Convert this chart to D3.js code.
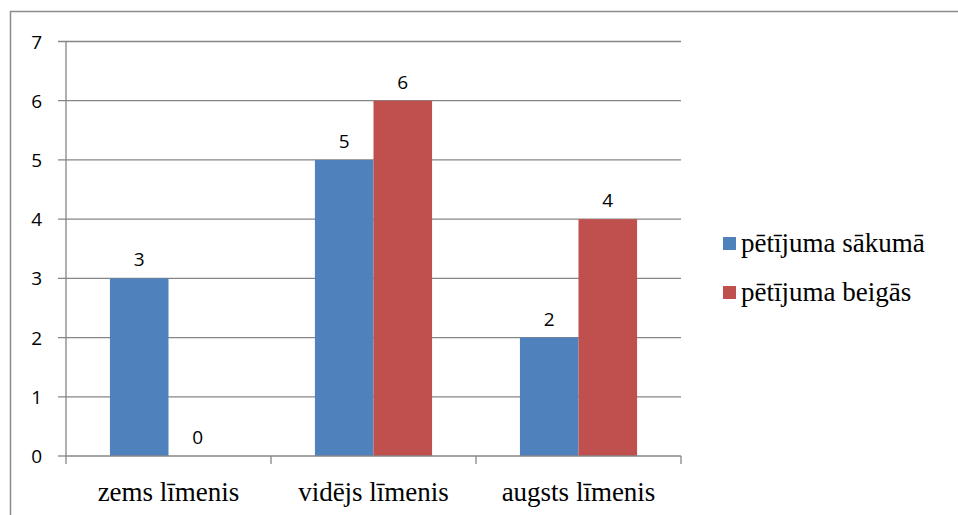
<!DOCTYPE html>
<html><head><meta charset="utf-8">
<script src="https://cdn.jsdelivr.net/npm/d3@7"></script>
</head><body style="margin:0"><svg id="c" width="958" height="515"></svg>
<script>
const categories = ["zems līmenis", "vidējs līmenis", "augsts līmenis"];
const seriesNames = ["pētījuma sākumā", "pētījuma beigās"];
const startValues = [3, 5, 2];
const endValues = [0, 6, 4];
const yTicks = [0, 1, 2, 3, 4, 5, 6, 7];
const colors = ["#4f81bd", "#c0504d"];

const svg = d3.select("#c");
const pLeft = 66, pRight = 681, pTop = 41.5, pBottom = 456;
const sansFont = "Open Sans";
const serifFont = "Liberation Serif";

// frame
svg.append("rect").attr("x", 10.5).attr("y", 11.5).attr("width", 960).attr("height", 520)
  .attr("fill", "none").attr("stroke", "#8c8c8c").attr("stroke-width", 1.5);

const x = d3.scaleBand().domain(categories).range([pLeft, pRight]);
const y = d3.scaleLinear().domain([0, 7]).range([pBottom, pTop]);
const bw = x.bandwidth() / 3.5;
const x1 = d3.scaleBand().domain([0, 1]).range([0.75 * bw, 2.75 * bw]);

// gridlines
svg.append("g").selectAll("line").data(yTicks.filter(d => d > 0)).join("line")
  .attr("x1", pLeft - 8).attr("x2", pRight).attr("y1", d => y(d)).attr("y2", d => y(d))
  .attr("stroke", "#868686").attr("stroke-width", 1.3);

const data = categories.map((c, i) => ({ c, vals: [startValues[i], endValues[i]] }));
const g = svg.append("g").selectAll("g").data(data).join("g")
  .attr("transform", d => `translate(${x(d.c)},0)`);
g.selectAll("rect").data(d => d.vals.map((v, s) => ({ v, s }))).join("rect")
  .attr("x", d => x1(d.s)).attr("width", x1.bandwidth())
  .attr("y", d => y(d.v)).attr("height", d => y(0) - y(d.v))
  .attr("fill", d => colors[d.s]);
g.selectAll("text").data(d => d.vals.map((v, s) => ({ v, s }))).join("text")
  .attr("x", d => x1(d.s) + x1.bandwidth() / 2).attr("y", d => y(d.v) - 12)
  .attr("text-anchor", "middle")
  .attr("font-family", sansFont).attr("font-size", 19)
  .attr("fill", "#000").text(d => d.v);

// y axis (drawn manually with the scale)
svg.append("line").attr("x1", pLeft).attr("x2", pLeft).attr("y1", y(7)).attr("y2", y(0))
  .attr("stroke", "#868686").attr("stroke-width", 1.3);
svg.append("g").selectAll("text").data(yTicks).join("text")
  .attr("x", pLeft - 24).attr("y", d => y(d) + 7).attr("text-anchor", "end")
  .attr("font-family", sansFont).attr("font-size", 19).attr("fill", "#000").text(d => d);
svg.append("g").selectAll("line").data([0]).join("line")
  .attr("x1", pLeft - 8).attr("x2", pLeft).attr("y1", y(0)).attr("y2", y(0))
  .attr("stroke", "#868686").attr("stroke-width", 1.3);

// x axis
svg.append("line").attr("x1", pLeft).attr("x2", pRight).attr("y1", y(0)).attr("y2", y(0))
  .attr("stroke", "#868686").attr("stroke-width", 1.3);
svg.append("g").selectAll("line").data([pLeft, x(categories[1]), x(categories[2]), pRight]).join("line")
  .attr("x1", d => d).attr("x2", d => d).attr("y1", pBottom).attr("y2", pBottom + 8)
  .attr("stroke", "#868686").attr("stroke-width", 1.3);
svg.append("g").selectAll("text").data(categories).join("text")
  .attr("x", d => x(d) + x.bandwidth() / 2).attr("y", pBottom + 45).attr("text-anchor", "middle")
  .attr("font-family", serifFont).attr("font-size", 27).attr("fill", "#000").text(d => d);

// legend
const lg = svg.append("g").selectAll("g").data(seriesNames).join("g")
  .attr("transform", (d, i) => `translate(723,${243 + i * 49})`);
lg.append("rect").attr("x", 0).attr("y", -6).attr("width", 13).attr("height", 13).attr("fill", (d, i) => colors[i]);
lg.append("text").attr("x", 18).attr("y", 9)
  .attr("font-family", serifFont).attr("font-size", 27)
  .attr("fill", "#000").text(d => d);
</script></body></html>
